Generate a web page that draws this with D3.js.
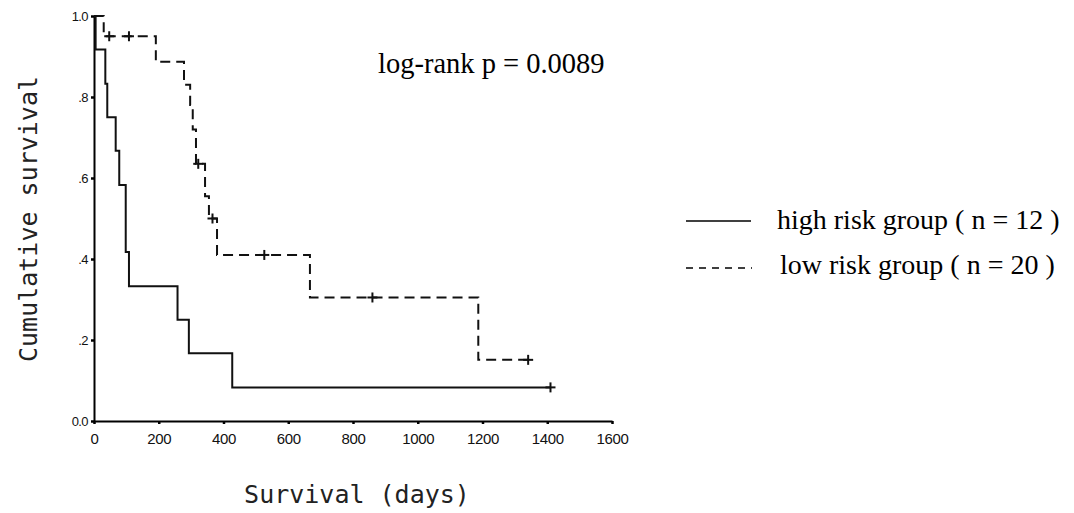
<!DOCTYPE html>
<html>
<head>
<meta charset="utf-8">
<script src="https://cdn.jsdelivr.net/npm/d3@7"></script>
<style>
  html, body { margin: 0; padding: 0; background: #fff; }
  svg { display: block; }
</style>
</head>
<body>
<svg id="chart" width="1074" height="513"></svg>
<script>
// ---- data ----
const xTicks = [0, 200, 400, 600, 800, 1000, 1200, 1400, 1600];
const yTicks = [0, 0.2, 0.4, 0.6, 0.8, 1.0];
const yTickLabels = ["0.0", ".2", ".4", ".6", ".8", "1.0"];

// high risk group (n = 12): step times (days) and survival after each step
const highTimes = [0, 5, 35, 41, 67, 78, 98, 108, 258, 293, 427, 1410];
const highSurv  = [1.0, 0.917, 0.833, 0.75, 0.667, 0.583, 0.417, 0.333, 0.25, 0.167, 0.083, 0.083];
const highCensorTimes = [1410];
const highCensorSurv  = [0.083];

// low risk group (n = 20)
const lowTimes = [0, 30, 191, 278, 297, 305, 315, 343, 355, 380, 667, 1187, 1341];
const lowSurv  = [1.0, 0.95, 0.887, 0.83, 0.78, 0.72, 0.635, 0.555, 0.50, 0.41, 0.305, 0.151, 0.151];
const lowCensorTimes = [47, 108, 322, 366, 526, 860, 1341];
const lowCensorSurv  = [0.95, 0.95, 0.635, 0.50, 0.41, 0.305, 0.151];

const legendLabels = ["high risk group ( n = 12 )", "low risk group ( n = 20 )"];
const annotation = "log-rank p = 0.0089";
const xTitle = "Survival (days)";
const yTitle = "Cumulative survival";

// ---- drawing ----
const svg = d3.select("#chart");
const x = d3.scaleLinear().domain([0, 1600]).range([94, 612]);
const y = d3.scaleLinear().domain([0, 1]).range([421, 16]);

const xAxis = d3.axisBottom(x).tickValues(xTicks).tickSize(3).tickSizeOuter(0).tickPadding(9)
  .tickFormat(d3.format("d"));
const gx = svg.append("g").attr("transform", `translate(0,${y(0)})`).call(xAxis);
gx.selectAll("text").attr("font-family", "Liberation Sans, Arial, sans-serif")
  .attr("font-size", 15).attr("letter-spacing", "-0.4").attr("fill", "#111");

const yAxis = d3.axisLeft(y).tickValues(yTicks).tickSize(3).tickSizeOuter(0).tickPadding(3)
  .tickFormat((d, i) => yTickLabels[i]);
const gy = svg.append("g").attr("transform", `translate(${x(0)},0)`).call(yAxis);
gy.selectAll("text").attr("font-family", "Liberation Sans, Arial, sans-serif")
  .attr("font-size", 13).attr("letter-spacing", "-0.6").attr("fill", "#111");

svg.selectAll(".domain").attr("stroke", "#000").attr("stroke-width", 2);
svg.selectAll(".tick line").attr("stroke", "#000").attr("stroke-width", 2.5);

const line = d3.line().x(d => x(d[0])).y(d => y(d[1])).curve(d3.curveStepAfter);

const highPts = highTimes.map((t, i) => [t, highSurv[i]]);
const lowPts = lowTimes.map((t, i) => [t, lowSurv[i]]);

svg.append("path").datum(highPts).attr("d", line)
  .attr("fill", "none").attr("stroke", "#111").attr("stroke-width", 2);
svg.append("path").datum(lowPts).attr("d", line)
  .attr("fill", "none").attr("stroke", "#111").attr("stroke-width", 2)
  .attr("stroke-dasharray", "10,6");

function censors(times, surv) {
  const g = svg.append("g").attr("stroke", "#111").attr("stroke-width", 2);
  times.forEach((t, i) => {
    const cx = x(t), cy = y(surv[i]);
    g.append("line").attr("x1", cx).attr("x2", cx).attr("y1", cy - 5).attr("y2", cy + 5);
    g.append("line").attr("x1", cx - 5).attr("x2", cx + 5).attr("y1", cy).attr("y2", cy);
  });
}
censors(highCensorTimes, highCensorSurv);
censors(lowCensorTimes, lowCensorSurv);

// titles
svg.append("text").attr("x", 357).attr("y", 503).attr("text-anchor", "middle")
  .attr("font-family", "DejaVu Sans Mono, monospace").attr("font-size", 25).attr("fill", "#222")
  .text(xTitle);
svg.append("text").attr("transform", "translate(37,219) rotate(-90)").attr("text-anchor", "middle")
  .attr("font-family", "DejaVu Sans Mono, monospace").attr("font-size", 25).attr("fill", "#222")
  .text(yTitle);

// annotation
svg.append("text").attr("x", 378).attr("y", 73)
  .attr("font-family", "Liberation Serif, Times New Roman, serif").attr("font-size", 28.5).attr("fill", "#000")
  .text(annotation);

// legend
const leg = svg.append("g");
leg.append("line").attr("x1", 686).attr("x2", 751).attr("y1", 221).attr("y2", 221)
  .attr("stroke", "#000").attr("stroke-width", 1.5);
leg.append("line").attr("x1", 686).attr("x2", 752).attr("y1", 268).attr("y2", 268)
  .attr("stroke", "#000").attr("stroke-width", 1.5).attr("stroke-dasharray", "7,6");
leg.append("text").attr("x", 777).attr("y", 229)
  .attr("font-family", "Liberation Serif, Times New Roman, serif").attr("font-size", 28).attr("fill", "#000")
  .text(legendLabels[0]);
leg.append("text").attr("x", 780).attr("y", 274)
  .attr("font-family", "Liberation Serif, Times New Roman, serif").attr("font-size", 28).attr("fill", "#000")
  .text(legendLabels[1]);
</script>
</body>
</html>
